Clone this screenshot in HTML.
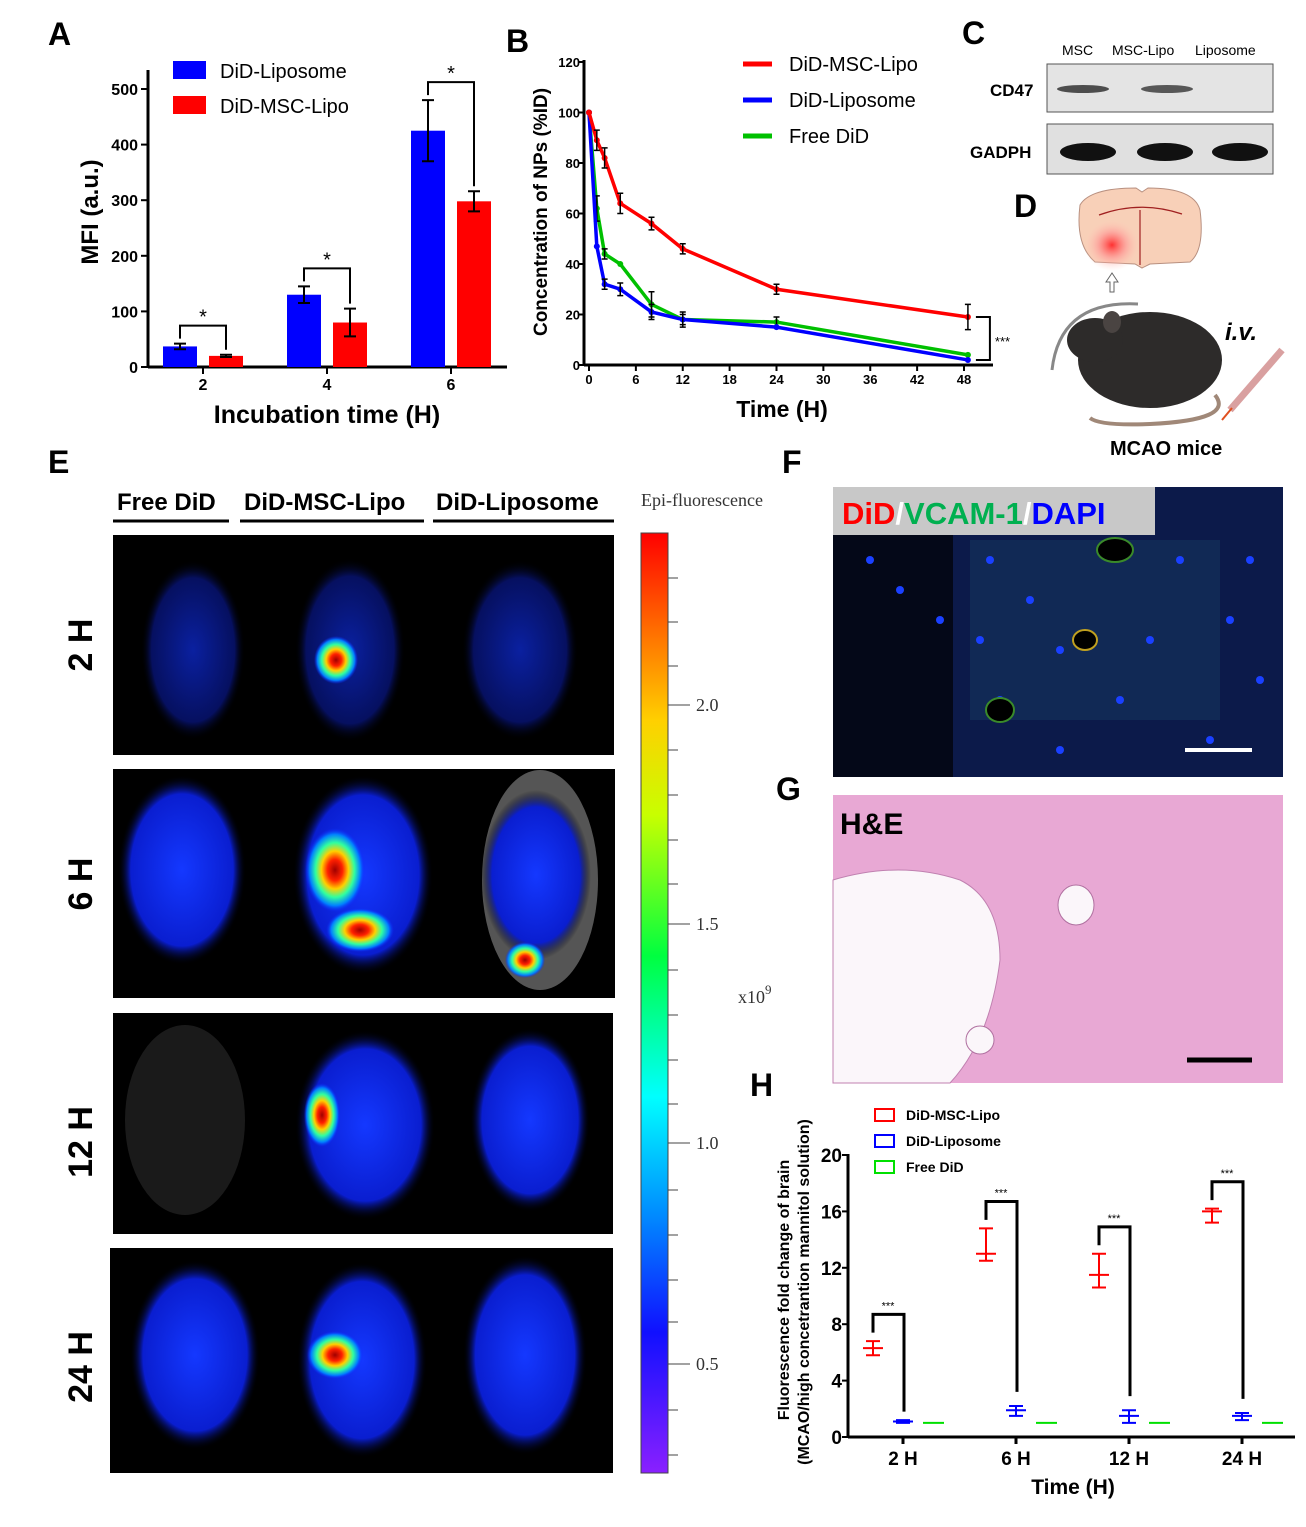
<!DOCTYPE html>
<html><head><meta charset="utf-8"><style>
body{margin:0;background:#fff}
svg{display:block;font-family:"Liberation Sans",Arial,sans-serif}
</style></head><body>
<svg id="fig" width="1306" height="1527" viewBox="0 0 1306 1527" xmlns="http://www.w3.org/2000/svg">
<defs>
<linearGradient id="cbar" x1="0" y1="0" x2="0" y2="1">
<stop offset="0" stop-color="#ff0000"/><stop offset="0.1" stop-color="#ff6a00"/><stop offset="0.2" stop-color="#ffd000"/><stop offset="0.3" stop-color="#c8ff00"/><stop offset="0.45" stop-color="#00ff40"/><stop offset="0.6" stop-color="#00ffff"/><stop offset="0.72" stop-color="#0090ff"/><stop offset="0.85" stop-color="#1010ff"/><stop offset="1" stop-color="#8a20ff"/>
</linearGradient>
<radialGradient id="hot"><stop offset="0" stop-color="#a00000"/><stop offset="0.25" stop-color="#ff2000"/><stop offset="0.45" stop-color="#ffd000"/><stop offset="0.65" stop-color="#30ffa0"/><stop offset="0.85" stop-color="#0080ff"/><stop offset="1" stop-color="#1020ff" stop-opacity="0"/></radialGradient>
<radialGradient id="brainb"><stop offset="0" stop-color="#1438ff"/><stop offset="0.8" stop-color="#0a1ed0"/><stop offset="1" stop-color="#000" stop-opacity="0"/></radialGradient>
<radialGradient id="dim"><stop offset="0" stop-color="#0a20a0"/><stop offset="0.8" stop-color="#061060"/><stop offset="1" stop-color="#000" stop-opacity="0"/></radialGradient>
<radialGradient id="strk"><stop offset="0" stop-color="#ff3030"/><stop offset="0.5" stop-color="#ff9090" stop-opacity="0.6"/><stop offset="1" stop-color="#ffd0c0" stop-opacity="0"/></radialGradient>
</defs>

<!-- panel letters -->
<g font-weight="bold" font-size="32" fill="#000">
<text x="48" y="45">A</text>
<text x="506" y="52">B</text>
<text x="962" y="44">C</text>
<text x="1014" y="217">D</text>
<text x="48" y="473">E</text>
<text x="782" y="473">F</text>
<text x="776" y="800">G</text>
<text x="750" y="1096">H</text>
</g>

<g id="chartA"></g>
<g id="chartB"></g>
<g id="chartH"></g>

<!-- Panel C western blot -->
<g>
<g font-size="15" font-weight="bold" fill="#000">
<text x="1062" y="55" font-weight="normal" font-size="14">MSC</text>
<text x="1112" y="55" font-weight="normal" font-size="14">MSC-Lipo</text>
<text x="1195" y="55" font-weight="normal" font-size="14">Liposome</text>
<text x="990" y="96" font-size="17">CD47</text>
<text x="970" y="158" font-size="17">GADPH</text>
</g>
<rect x="1047" y="64" width="226" height="48" fill="#e4e4e4" stroke="#555"/>
<ellipse cx="1083" cy="89" rx="26" ry="4" fill="#333" opacity="0.85"/>
<ellipse cx="1167" cy="89" rx="26" ry="4" fill="#333" opacity="0.8"/>
<rect x="1047" y="124" width="226" height="50" fill="#e0e0e0" stroke="#555"/>
<ellipse cx="1088" cy="152" rx="28" ry="9" fill="#111"/>
<ellipse cx="1165" cy="152" rx="28" ry="9" fill="#111"/>
<ellipse cx="1240" cy="152" rx="28" ry="9" fill="#111"/>
</g>

<!-- Panel D schematic -->
<g>
<path d="M1080 205 Q1090 188 1136 188 L1142 192 L1148 188 Q1194 188 1200 210 Q1205 250 1190 262 L1150 264 L1142 268 L1135 264 L1095 262 Q1075 245 1080 205Z" fill="#f8d0b8" stroke="#b89080"/>
<ellipse cx="1112" cy="245" rx="28" ry="26" fill="url(#strk)"/>
<path d="M1099 215 Q1140 200 1182 214" fill="none" stroke="#a02020" stroke-width="1.2"/>
<line x1="1140" y1="210" x2="1140" y2="265" stroke="#a02020" stroke-width="1.2"/>
<path d="M1110 282 l-4 0 l6 -9 l6 9 l-4 0 l0 10 l-4 0z" fill="#fff" stroke="#666"/>
<path d="M1052 370 Q1060 300 1138 304" fill="none" stroke="#888" stroke-width="3"/>
<ellipse cx="1150" cy="360" rx="72" ry="48" fill="#2d2b2a"/>
<ellipse cx="1095" cy="340" rx="28" ry="22" fill="#2d2b2a"/>
<ellipse cx="1112" cy="322" rx="9" ry="11" fill="#4a4442"/>
<path d="M1215 395 Q1235 420 1150 424 Q1100 426 1090 418" fill="none" stroke="#a08878" stroke-width="4"/>
<line x1="1230" y1="410" x2="1282" y2="350" stroke="#d9a0a0" stroke-width="7"/>
<line x1="1222" y1="420" x2="1232" y2="408" stroke="#e05020" stroke-width="2"/>
<text x="1225" y="340" font-size="24" font-weight="bold" font-style="italic">i.v.</text>
<text x="1110" y="455" font-size="20" font-weight="bold">MCAO mice</text>
</g>

<!-- Panel E -->
<g>
<g font-size="24" font-weight="bold">
<text x="117" y="510">Free DiD</text>
<text x="244" y="510">DiD-MSC-Lipo</text>
<text x="436" y="510">DiD-Liposome</text>
</g>
<line x1="113" y1="521" x2="229" y2="521" stroke="#000" stroke-width="3"/>
<line x1="240" y1="521" x2="424" y2="521" stroke="#000" stroke-width="3"/>
<line x1="433" y1="521" x2="614" y2="521" stroke="#000" stroke-width="3"/>
<g font-size="34" font-weight="bold">
<text transform="translate(92,645) rotate(-90)" text-anchor="middle">2 H</text>
<text transform="translate(92,884) rotate(-90)" text-anchor="middle">6 H</text>
<text transform="translate(92,1142) rotate(-90)" text-anchor="middle">12 H</text>
<text transform="translate(92,1367) rotate(-90)" text-anchor="middle">24 H</text>
</g>
<rect x="113" y="535" width="501" height="220" fill="#000"/>
<ellipse cx="193" cy="650" rx="52" ry="90" fill="url(#dim)"/>
<ellipse cx="350" cy="650" rx="55" ry="92" fill="url(#dim)"/>
<ellipse cx="336" cy="660" rx="22" ry="24" fill="url(#hot)"/>
<ellipse cx="520" cy="650" rx="58" ry="90" fill="url(#dim)"/>
<rect x="113" y="769" width="502" height="229" fill="#000"/>
<ellipse cx="182" cy="870" rx="64" ry="95" fill="url(#brainb)"/>
<ellipse cx="363" cy="875" rx="70" ry="100" fill="url(#brainb)"/>
<ellipse cx="335" cy="870" rx="30" ry="42" fill="url(#hot)"/>
<ellipse cx="360" cy="930" rx="34" ry="22" fill="url(#hot)"/>
<ellipse cx="540" cy="880" rx="58" ry="110" fill="#555"/>
<ellipse cx="536" cy="875" rx="55" ry="85" fill="url(#brainb)"/>
<ellipse cx="525" cy="960" rx="20" ry="18" fill="url(#hot)"/>
<rect x="113" y="1013" width="500" height="221" fill="#000"/>
<ellipse cx="185" cy="1120" rx="60" ry="95" fill="#1a1a1a"/>
<ellipse cx="365" cy="1125" rx="70" ry="95" fill="url(#brainb)"/>
<ellipse cx="322" cy="1115" rx="18" ry="32" fill="url(#hot)"/>
<ellipse cx="530" cy="1120" rx="60" ry="92" fill="url(#brainb)"/>
<rect x="110" y="1248" width="503" height="225" fill="#000"/>
<ellipse cx="195" cy="1355" rx="65" ry="95" fill="url(#brainb)"/>
<ellipse cx="362" cy="1360" rx="65" ry="98" fill="url(#brainb)"/>
<ellipse cx="335" cy="1355" rx="28" ry="24" fill="url(#hot)"/>
<ellipse cx="525" cy="1355" rx="62" ry="100" fill="url(#brainb)"/>
<text x="641" y="506" font-size="18" font-family="Liberation Serif,serif" fill="#333">Epi-fluorescence</text>
<rect x="641" y="533" width="27" height="940" fill="url(#cbar)" stroke="#444"/>
<g stroke="#444">
<line x1="668" y1="578" x2="678" y2="578"/><line x1="668" y1="622" x2="678" y2="622"/><line x1="668" y1="666" x2="678" y2="666"/><line x1="668" y1="705" x2="690" y2="705"/><line x1="668" y1="750" x2="678" y2="750"/><line x1="668" y1="795" x2="678" y2="795"/><line x1="668" y1="840" x2="678" y2="840"/><line x1="668" y1="884" x2="678" y2="884"/><line x1="668" y1="924" x2="690" y2="924"/><line x1="668" y1="970" x2="678" y2="970"/><line x1="668" y1="1015" x2="678" y2="1015"/><line x1="668" y1="1060" x2="678" y2="1060"/><line x1="668" y1="1104" x2="678" y2="1104"/><line x1="668" y1="1143" x2="690" y2="1143"/><line x1="668" y1="1190" x2="678" y2="1190"/><line x1="668" y1="1235" x2="678" y2="1235"/><line x1="668" y1="1280" x2="678" y2="1280"/><line x1="668" y1="1322" x2="678" y2="1322"/><line x1="668" y1="1364" x2="690" y2="1364"/><line x1="668" y1="1410" x2="678" y2="1410"/><line x1="668" y1="1455" x2="678" y2="1455"/>
</g>
<g font-size="18" font-family="Liberation Serif,serif" fill="#333">
<text x="696" y="711">2.0</text>
<text x="696" y="930">1.5</text>
<text x="696" y="1149">1.0</text>
<text x="696" y="1370">0.5</text>
<text x="738" y="1003">x10<tspan dy="-9" font-size="13">9</tspan></text>
</g>
</g>

<!-- Panel F -->
<g>
<rect x="833" y="487" width="450" height="290" fill="#0c1a4a"/>
<rect x="833" y="535" width="120" height="242" fill="#040818"/>
<rect x="970" y="540" width="250" height="180" fill="#14305a" opacity="0.7"/>
<g fill="#1a40ff">
<circle cx="870" cy="560" r="4"/><circle cx="900" cy="590" r="4"/><circle cx="940" cy="620" r="4"/><circle cx="990" cy="560" r="4"/><circle cx="1030" cy="600" r="4"/><circle cx="1060" cy="650" r="4"/><circle cx="1120" cy="700" r="4"/><circle cx="1180" cy="560" r="4"/><circle cx="1230" cy="620" r="4"/><circle cx="1260" cy="680" r="4"/><circle cx="1000" cy="700" r="4"/><circle cx="1150" cy="640" r="4"/><circle cx="1210" cy="740" r="4"/><circle cx="1060" cy="750" r="4"/><circle cx="980" cy="640" r="4"/><circle cx="1250" cy="560" r="4"/>
</g>
<ellipse cx="1115" cy="550" rx="18" ry="12" fill="#000" stroke="#3a8a2a" stroke-width="2"/>
<ellipse cx="1085" cy="640" rx="12" ry="10" fill="#000" stroke="#c0a020" stroke-width="2"/>
<ellipse cx="1000" cy="710" rx="14" ry="12" fill="#000" stroke="#3a8a2a" stroke-width="2"/>
<rect x="833" y="487" width="322" height="48" fill="#c8c8c8"/>
<text x="842" y="524" font-size="31" font-weight="bold"><tspan fill="#ff0000">DiD</tspan><tspan fill="#fff">/</tspan><tspan fill="#00b050">VCAM-1</tspan><tspan fill="#fff">/</tspan><tspan fill="#0000ff">DAPI</tspan></text>
<line x1="1185" y1="750" x2="1252" y2="750" stroke="#fff" stroke-width="4"/>
</g>

<!-- Panel G -->
<g>
<rect x="833" y="795" width="450" height="288" fill="#e8a8d4"/>
<path d="M833 880 Q900 860 960 880 Q1000 900 1000 960 Q990 1040 950 1083 L833 1083Z" fill="#fbf6fa" stroke="#c080b0"/>
<ellipse cx="1076" cy="905" rx="18" ry="20" fill="#fbf6fa" stroke="#b070a0"/>
<ellipse cx="980" cy="1040" rx="14" ry="14" fill="#fbf6fa" stroke="#b070a0"/>
<text x="840" y="834" font-size="30" font-weight="bold">H&amp;E</text>
<line x1="1187" y1="1060" x2="1252" y2="1060" stroke="#000" stroke-width="5"/>
</g>

<script>
const NS='http://www.w3.org/2000/svg';
function mk(parent,tag,attrs,text){const e=document.createElementNS(NS,tag);for(const k in attrs)e.setAttribute(k,attrs[k]);if(text!==undefined)e.textContent=text;parent.appendChild(e);return e;}

// ===== Chart A data =====
const aCategories=['2','4','6'];
const aLiposome=[37,130,425];
const aLiposomeErr=[5,15,55];
const aMscLipo=[20,80,298];
const aMscLipoErr=[2,25,18];
const aTicks=[0,100,200,300,400,500];

// ===== Chart B data =====
const bTimes=[0,1,2,4,8,12,24,48.5];
const bMscLipo=[100,89,82,64,56,46,30,19];
const bMscLipoErr=[0,4,4,4,2.5,2,2,5];
const bLiposome=[100,47,32,30,21,18,15,2];
const bLiposomeErr=[0,0,2,2.5,3,3,0,0];
const bFree=[100,62,44,40,24,18,17,4];
const bFreeErr=[0,5,2,0,5,2,2,0];
const bYTicks=[0,20,40,60,80,100,120];
const bXTicks=[0,6,12,18,24,30,36,42,48];

// ===== Chart H data =====
const hCategories=['2 H','6 H','12 H','24 H'];
const hMscLipo=[6.3,13,11.5,16];
const hMscLo=[5.8,12.5,10.6,15.2];
const hMscHi=[6.8,14.8,13,16.2];
const hLiposome=[1.1,1.9,1.5,1.5];
const hLipoLo=[1.0,1.5,1.0,1.2];
const hLipoHi=[1.2,2.2,1.9,1.7];
const hFree=[1,1,1,1];
const hTicks=[0,4,8,12,16,20];

// ---- A ----
(function(){
const g=document.getElementById('chartA');
const y=v=>367-v*(278/500);
const gx=i=>203+i*124;
mk(g,'line',{x1:148,y1:367,x2:507,y2:367,stroke:'#000','stroke-width':3});
mk(g,'line',{x1:148,y1:367,x2:148,y2:70,stroke:'#000','stroke-width':3});
aTicks.forEach(t=>{mk(g,'line',{x1:141,y1:y(t),x2:148,y2:y(t),stroke:'#000','stroke-width':2});
const tx=mk(g,'text',{x:138,y:y(t)+6,'text-anchor':'end','font-size':16,'font-weight':'bold'},t);

});
aCategories.forEach((c,i)=>{
 const cx=gx(i);
 mk(g,'line',{x1:cx,y1:367,x2:cx,y2:374,stroke:'#000','stroke-width':2});
 const tx=mk(g,'text',{x:cx,y:390,'text-anchor':'middle','font-size':16,'font-weight':'bold'},c);
 
 
 [[aLiposome,aLiposomeErr,'#0000ff',-40],[aMscLipo,aMscLipoErr,'#ff0000',6]].forEach(([v,e,col,off])=>{
  const r=mk(g,'rect',{x:cx+off,y:y(v[i]),width:34,height:367-y(v[i]),fill:col});
  
  
  const mx=cx+off+17;
  mk(g,'path',{d:`M${mx} ${y(v[i]+e[i])}V${y(v[i]-e[i])}M${mx-6} ${y(v[i]+e[i])}h12M${mx-6} ${y(v[i]-e[i])}h12`,stroke:'#000','stroke-width':2,fill:'none'});
 });
 const top=Math.max(aLiposome[i]+aLiposomeErr[i],aMscLipo[i]+aMscLipoErr[i]);
 const by=y(top)-18, xl=cx-23, xr=cx+23;
 mk(g,'path',{d:`M${xl} ${y(aLiposome[i]+aLiposomeErr[i])-5}V${by}H${xr}V${y(aMscLipo[i]+aMscLipoErr[i])-5}`,stroke:'#000','stroke-width':2,fill:'none'});
 mk(g,'text',{x:cx,y:by-2,'text-anchor':'middle','font-size':20},'*');
});
const yl=mk(g,'text',{transform:'translate(98,212) rotate(-90)','text-anchor':'middle','font-size':24,'font-weight':'bold'},'MFI (a.u.)');

const xl=mk(g,'text',{x:327,y:423,'text-anchor':'middle','font-size':25,'font-weight':'bold'},'Incubation time (H)');

mk(g,'rect',{x:173,y:61,width:33,height:18,fill:'#0000ff'});
mk(g,'text',{x:220,y:78,'font-size':20},'DiD-Liposome');
mk(g,'rect',{x:173,y:96,width:33,height:18,fill:'#ff0000'});
mk(g,'text',{x:220,y:113,'font-size':20},'DiD-MSC-Lipo');
})();

// ---- B ----
(function(){
const g=document.getElementById('chartB');
const x=t=>589+t*(375/48);
const y=v=>365-v*(303/120);
mk(g,'line',{x1:584,y1:365,x2:993,y2:365,stroke:'#000','stroke-width':3});
mk(g,'line',{x1:584,y1:365,x2:584,y2:60,stroke:'#000','stroke-width':3});
bYTicks.forEach(t=>{mk(g,'line',{x1:578,y1:y(t),x2:584,y2:y(t),stroke:'#000','stroke-width':2});
const tx=mk(g,'text',{x:580,y:y(t)+5,'text-anchor':'end','font-size':13,'font-weight':'bold'},t);
});
bXTicks.forEach(t=>{mk(g,'line',{x1:x(t),y1:365,x2:x(t),y2:371,stroke:'#000','stroke-width':2});
const tx=mk(g,'text',{x:x(t),y:384,'text-anchor':'middle','font-size':13,'font-weight':'bold'},t);
});
[[bFree,bFreeErr,'#00c000'],[bLiposome,bLiposomeErr,'#0000ff'],[bMscLipo,bMscLipoErr,'#ff0000']].forEach(([v,e,col])=>{
 const p=mk(g,'polyline',{points:bTimes.map((t,i)=>x(t)+','+y(v[i])).join(' '),fill:'none',stroke:col,'stroke-width':3.5});
 
 bTimes.forEach((t,i)=>{mk(g,'circle',{cx:x(t),cy:y(v[i]),r:3,fill:col});
  if(e[i]>0)mk(g,'path',{d:`M${x(t)} ${y(v[i]+e[i])}V${y(v[i]-e[i])}M${x(t)-3} ${y(v[i]+e[i])}h6M${x(t)-3} ${y(v[i]-e[i])}h6`,stroke:'#000','stroke-width':1.5,fill:'none'});});
});
const lx=x(48.5);
mk(g,'path',{d:`M${lx+8} ${y(bMscLipo[7])}H${lx+22}V${y(bLiposome[7])}H${lx+8}`,stroke:'#000','stroke-width':2,fill:'none'});
mk(g,'text',{x:lx+27,y:y(10)+6,'font-size':13},'***');
const yl=mk(g,'text',{transform:'translate(547,212) rotate(-90)','text-anchor':'middle','font-size':19,'font-weight':'bold'},'Concentration of NPs (%ID)');

const xl=mk(g,'text',{x:782,y:417,'text-anchor':'middle','font-size':23,'font-weight':'bold'},'Time (H)');

[['DiD-MSC-Lipo','#ff0000',64],['DiD-Liposome','#0000ff',100],['Free DiD','#00c000',136]].forEach(([n,c,yy])=>{
 mk(g,'line',{x1:743,y1:yy,x2:772,y2:yy,stroke:c,'stroke-width':5});
 const t=mk(g,'text',{x:789,y:yy+7,'font-size':20},n);
 
});
})();

// ---- H ----
(function(){
const g=document.getElementById('chartH');
const y=v=>1437-v*(282/20);
const cx=i=>903+i*113;
mk(g,'line',{x1:848,y1:1437,x2:1295,y2:1437,stroke:'#000','stroke-width':3});
mk(g,'line',{x1:848,y1:1437,x2:848,y2:1154,stroke:'#000','stroke-width':3});
hTicks.forEach(t=>{mk(g,'line',{x1:842,y1:y(t),x2:848,y2:y(t),stroke:'#000','stroke-width':2});
const tx=mk(g,'text',{x:842,y:y(t)+7,'text-anchor':'end','font-size':19,'font-weight':'bold'},t);
});
hCategories.forEach((c,i)=>{
 const X=cx(i);
 mk(g,'line',{x1:X,y1:1437,x2:X,y2:1444,stroke:'#000','stroke-width':3});
 const tx=mk(g,'text',{x:X,y:1465,'text-anchor':'middle','font-size':19,'font-weight':'bold'},c);
 
 const eb=(xx,m,lo,hi,col)=>{const p=mk(g,'path',{d:`M${xx} ${y(hi)}V${y(lo)}M${xx-7} ${y(hi)}h14M${xx-7} ${y(lo)}h14M${xx-10} ${y(m)}h20`,stroke:col,'stroke-width':2,fill:'none'});
  };
 eb(X-30,hMscLipo[i],hMscLo[i],hMscHi[i],'#ff0000');
 eb(X,hLiposome[i],hLipoLo[i],hLipoHi[i],'#0000ff');
 const f=mk(g,'line',{x1:X+20,y1:y(hFree[i]),x2:X+41,y2:y(hFree[i]),stroke:'#00e000','stroke-width':2});
 
 const top=hMscHi[i]+1.9;
 mk(g,'path',{d:`M${X-30} ${y(hMscHi[i]+0.6)}V${y(top)}H${X+1}V${y(hLipoHi[i]+(i==0?0.6:1))}`,stroke:'#000','stroke-width':3,fill:'none'});
 mk(g,'text',{x:X-15,y:y(top)-5,'text-anchor':'middle','font-size':11},'***');
});
const yl=mk(g,'text',{transform:'translate(789,1290) rotate(-90)','text-anchor':'middle','font-size':16,'font-weight':'bold'},'Fluorescence fold change of brain');

mk(g,'text',{transform:'translate(809,1292) rotate(-90)','text-anchor':'middle','font-size':16,'font-weight':'bold'},'(MCAO/high concetrantion mannitol solution)');
const xl=mk(g,'text',{x:1073,y:1494,'text-anchor':'middle','font-size':21,'font-weight':'bold'},'Time (H)');

[['DiD-MSC-Lipo','#ff0000',1115],['DiD-Liposome','#0000ff',1141],['Free DiD','#00e000',1167]].forEach(([n,c,yy])=>{
 mk(g,'rect',{x:875,y:yy-6,width:19,height:12,fill:'none',stroke:c,'stroke-width':2});
 const t=mk(g,'text',{x:906,y:yy+5,'font-size':14,'font-weight':'bold'},n);
 
});
})();
</script>
</svg>
</body></html>
